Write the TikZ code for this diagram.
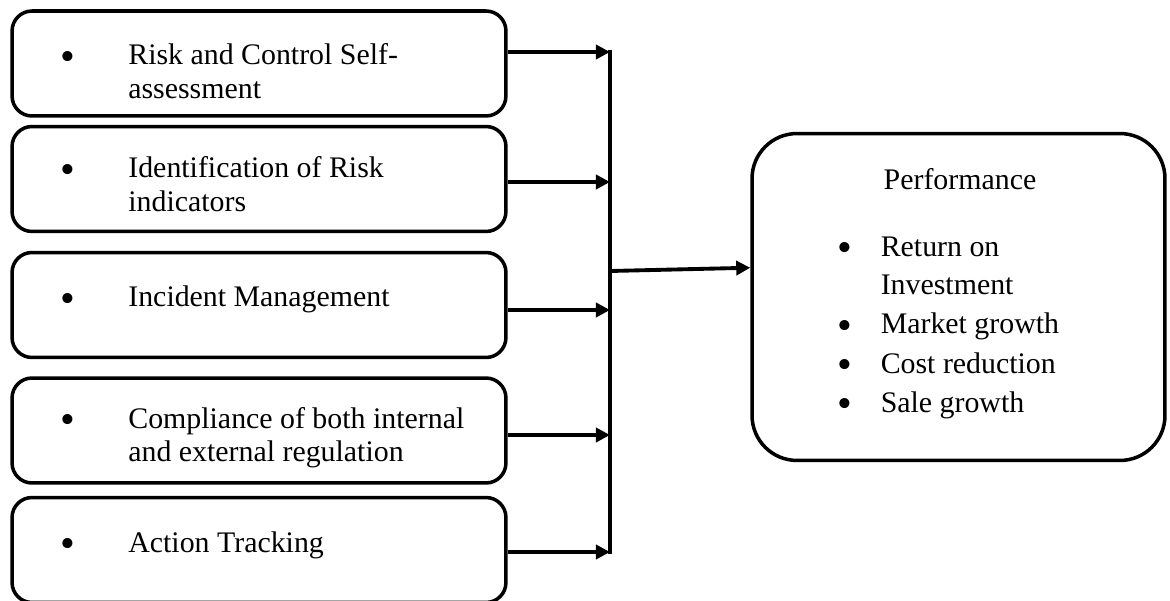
\documentclass[tikz,border=0pt]{standalone}
\usepackage{fontspec}
\setmainfont{Liberation Serif}
\usetikzlibrary{arrows.meta}

\newcommand{\bigbul}{\raisebox{-3.2pt}{\fontsize{24}{19}\selectfont\textbullet}}
\newcommand{\lbul}[1]{\makebox[37pt][l]{\hspace{-1.5pt}\bigbul}\parbox[t]{9cm}{#1}}
\newcommand{\rbul}[1]{\makebox[23pt][l]{\hspace{-1.5pt}\bigbul}\parbox[t]{6cm}{#1}}

\tikzset{
  box/.style={draw, line width=2pt, rounded corners=0.4cm,
    minimum width=9.88cm, minimum height=2.1cm, inner sep=0pt},
  bigbox/.style={draw, line width=2pt, rounded corners=0.9cm,
    minimum width=8.26cm, minimum height=6.54cm, inner sep=0pt},
  item/.style={inner sep=0pt, anchor=base west,
    font=\fontsize{17}{19}\selectfont},
  ritem/.style={item, font=\fontsize{17}{22}\selectfont},
  link/.style={line width=2.2pt, -{Triangle[length=8pt,width=8pt]}}
}

\begin{document}
\begin{tikzpicture}[x=0.02cm, y=-0.02cm]
\fill[white] (0,0) rectangle (1170,601);
\useasboundingbox (0,0) rectangle (1170,601);

% left boxes
\node[box] (b1) at (259,63.5) {};
\node[box] (b2) at (259,179) {};
\node[box] (b3) at (259,305) {};
\node[box] (b4) at (259,430.5) {};
\node[box] (b5) at (259,550) {};

\node[item] (t1) at (63,65) {\lbul{Risk and Control Self-\\assessment}};
\node[item] (t2) at (63,178) {\lbul{Identification of Risk\\indicators}};
\node[item] (t3) at (63,307) {\lbul{Incident Management}};
\node[item] (t4) at (63,428) {\lbul{Compliance of both internal\\and external regulation}};
\node[item] (t5) at (63,552) {\lbul{Action Tracking}};

% right box
\node[bigbox] (perf) at (958.5,297) {};
\node[ritem, anchor=base] (ptitle) at (960,190) {Performance};
\node[ritem] (p1) at (840,256) {\rbul{Return on\\Investment}};
\node[ritem] (p2) at (840,334) {\rbul{Market growth}};
\node[ritem] (p3) at (840,373) {\rbul{Cost reduction}};
\node[ritem] (p4) at (840,412) {\rbul{Sale growth}};

% bus
\coordinate (j1) at (610,52);
\coordinate (j2) at (610,182);
\coordinate (j3) at (610,310);
\coordinate (j4) at (610,435);
\coordinate (j5) at (610,552);
\coordinate (jp) at (610,271);

\draw[line width=2.2pt] ([yshift=1pt]j1) -- ([yshift=-1pt]j5);
\draw[link] (b1.east |- j1) -- (j1);
\draw[link] (b2.east |- j2) -- (j2);
\draw[link] (b3.east |- j3) -- (j3);
\draw[link] (b4.east |- j4) -- (j4);
\draw[link] (b5.east |- j5) -- (j5);
\draw[link] (jp) -- (perf.172);
\end{tikzpicture}
\end{document}
